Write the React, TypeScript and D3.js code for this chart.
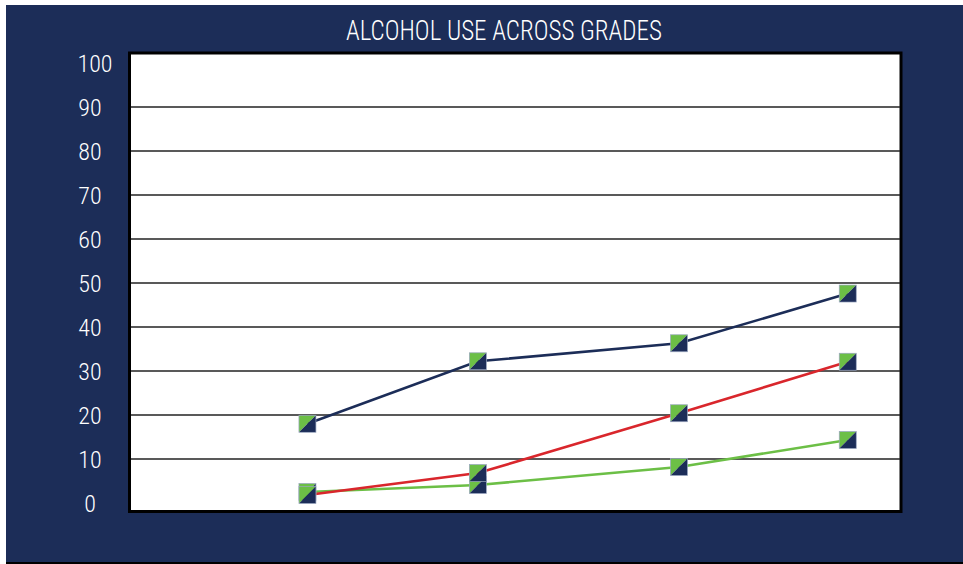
import React from "react";
import * as d3 from "d3";

const title = "ALCOHOL USE ACROSS GRADES";
const gradePositions = [1, 2, 3.18, 4.17];
const yTicks = [0, 10, 20, 30, 40, 50, 60, 70, 80, 90, 100];
const gridValues = [10, 20, 30, 40, 50, 60, 70, 80, 90];
const seriesNames = ["navy", "red", "green"];
const navyValues = [18, 32.2, 36.3, 47.6];
const redValues = [1.8, 6.8, 20.4, 32.1];
const greenValues = [2.5, 4.1, 8.2, 14.3];

const NAVY = "#1c2d58";
const RED = "#d9262c";
const GREEN = "#6cbf46";
const FONT = "'Roboto Condensed', 'Liberation Sans Narrow', 'DejaVu Sans Condensed', sans-serif";

export default function App() {
  const W = 963;
  const H = 564;
  const x = d3.scaleLinear().domain([0, 4.5]).range([137, 904]);
  const y = d3.scaleLinear().domain([0, 100]).range([503, 63]);
  const line = d3
    .line<number>()
    .x((_, i) => x(gradePositions[i]))
    .y((d) => y(d));

  const series = [
    { name: seriesNames[2], color: GREEN, values: greenValues },
    { name: seriesNames[1], color: RED, values: redValues },
    { name: seriesNames[0], color: NAVY, values: navyValues },
  ];
  const m = 8.5;

  return (
    <div style={{ position: "fixed", left: 0, top: 0, width: W, height: H, background: "#fff" }}>
      <svg width={W} height={H} style={{ display: "block" }}>
        <rect x={6} y={5} width={W - 6} height={557} fill={NAVY} />
        <rect x={6} y={562} width={W - 6} height={2} fill="#000" />
        <text
          x={504}
          y={40}
          fill="#fff"
          fontFamily={FONT}
          fontWeight={300}
          fontSize={27}
          textAnchor="middle"
          textLength={316}
          lengthAdjust="spacingAndGlyphs"
        >
          {title}
        </text>
        <rect x={129.5} y={53} width={771.5} height={458.5} fill="#fff" stroke="#000" strokeWidth={3} />
        {gridValues.map((v) => (
          <line key={v} x1={131} x2={900} y1={y(v)} y2={y(v)} stroke="#222" strokeWidth={1.3} />
        ))}
        {yTicks.map((v) => (
          <text
            key={v}
            x={v === 100 ? 95 : 90}
            y={y(v)}
            dy="0.36em"
            fill="#fff"
            fontFamily={FONT}
            fontWeight={300}
            fontSize={24}
            textAnchor="middle"
          >
            {v}
          </text>
        ))}
        {series.map((s) => (
          <path key={s.name} d={line(s.values) || ""} fill="none" stroke={s.color} strokeWidth={2.6} />
        ))}
        {series.map((s) =>
          s.values.map((v, i) => {
            const cx = x(gradePositions[i]);
            const cy = y(v);
            return (
              <g key={s.name + i}>
                <path
                  d={`M${cx - m},${cy - m}L${cx + m},${cy - m}L${cx - m},${cy + m}Z`}
                  fill={GREEN}
                />
                <path
                  d={`M${cx + m},${cy - m}L${cx + m},${cy + m}L${cx - m},${cy + m}Z`}
                  fill={NAVY}
                />
                <rect
                  x={cx - m}
                  y={cy - m}
                  width={2 * m}
                  height={2 * m}
                  fill="none"
                  stroke="#9aa6c0"
                  strokeWidth={0.7}
                />
              </g>
            );
          })
        )}
      </svg>
    </div>
  );
}
